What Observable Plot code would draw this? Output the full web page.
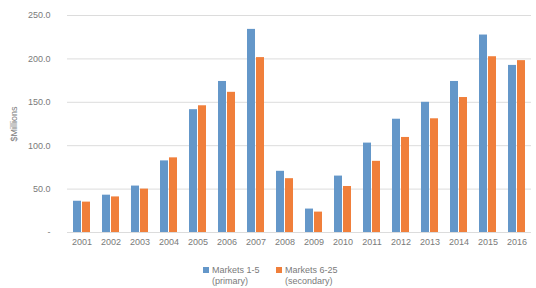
<!DOCTYPE html>
<html>
<head>
<meta charset="utf-8">
<script src="https://cdn.jsdelivr.net/npm/d3@7"></script>
<script src="https://cdn.jsdelivr.net/npm/@observablehq/plot@0.6"></script>
<style>
  html, body { margin: 0; padding: 0; background: #fff; }
  #wrap { position: relative; width: 536px; height: 288px; font-family: "Liberation Sans", Arial, sans-serif; }
  .legend-item { position: absolute; top: 265px; display: flex; align-items: flex-start; font-size: 9px; line-height: 10.5px; color: #7a7a7a; }
  .sw { width: 6px; height: 6px; margin-top: 2px; margin-right: 3px; }
</style>
</head>
<body>
<div id="wrap"></div>
<script>
const years = ["2001","2002","2003","2004","2005","2006","2007","2008","2009","2010","2011","2012","2013","2014","2015","2016"];
const seriesNames = ["Markets 1-5 (primary)", "Markets 6-25 (secondary)"];
const legendLines = [["Markets 1-5", "(primary)"], ["Markets 6-25", "(secondary)"]];
const primary = [36, 43, 53.5, 82.5, 141.5, 174, 234, 70.5, 27, 65, 103, 130.5, 150, 174, 227.5, 192.5];
const secondary = [35, 41, 50, 86, 146, 161.5, 201.5, 62, 23.5, 53, 82, 109.5, 131, 155.5, 202.5, 198];
const yTicks = [0, 50, 100, 150, 200, 250];
const colors = ["#6497c9", "#f07f3b"];

const data = [];
years.forEach((yr, i) => {
  data.push({year: yr, series: seriesNames[0], value: primary[i]});
  data.push({year: yr, series: seriesNames[1], value: secondary[i]});
});

const chart = Plot.plot({
  width: 536,
  height: 252,
  marginLeft: 62,
  marginRight: 0,
  marginTop: 15,
  marginBottom: 20,
  style: {fontFamily: "Liberation Sans, Arial, sans-serif", fontSize: "9px", color: "#7a7a7a", background: "#fff"},
  fx: {domain: years, paddingInner: 0, paddingOuter: 0, label: null, tickSize: 0, tickPadding: 6, axis: "bottom"},
  x: {domain: seriesNames, paddingInner: 0.16, paddingOuter: 0.69, axis: null},
  y: {domain: [0, 250], ticks: yTicks, tickSize: 0, tickPadding: 17,
      tickFormat: d => d === 0 ? "-" : d.toFixed(1),
      label: "$Millions", labelAnchor: "center", labelOffset: 57, labelArrow: "none"},
  color: {domain: seriesNames, range: colors},
  marks: [
    Plot.ruleY(yTicks, {stroke: "#dcdcdc", strokeWidth: 1}),
    Plot.barY(data, {fx: "year", x: "series", y: "value", fill: "series"})
  ]
});

const wrap = document.getElementById("wrap");
wrap.appendChild(chart);

const legendLeft = [203, 276];
legendLines.forEach((lines, i) => {
  const item = document.createElement("div");
  item.className = "legend-item";
  item.style.left = legendLeft[i] + "px";
  const sw = document.createElement("div");
  sw.className = "sw";
  sw.style.background = colors[i];
  const txt = document.createElement("div");
  txt.innerHTML = lines[0] + "<br>" + lines[1];
  item.appendChild(sw);
  item.appendChild(txt);
  wrap.appendChild(item);
});
</script>
</body>
</html>
